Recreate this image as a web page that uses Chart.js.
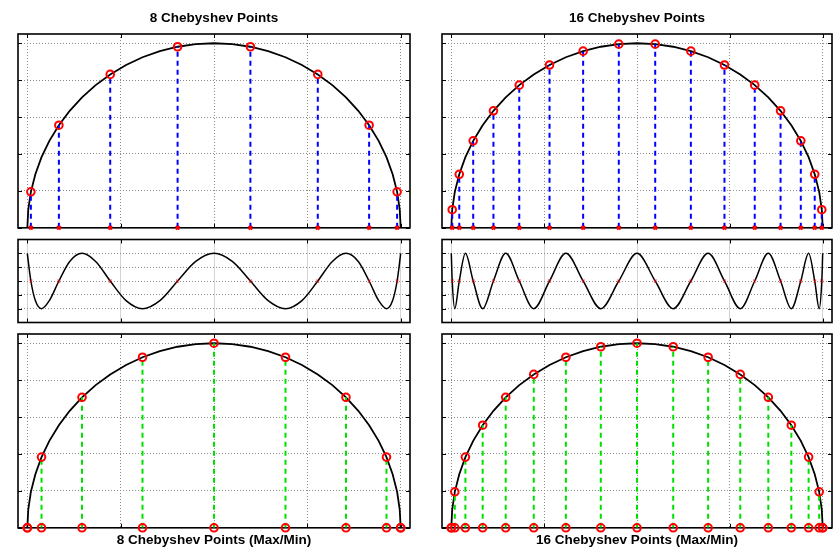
<!DOCTYPE html>
<html>
<head>
<meta charset="utf-8">
<script src="https://cdn.jsdelivr.net/npm/chart.js@4"></script>
<style>
html, body { margin: 0; padding: 0; background: #fff; }
#wrap { position: relative; width: 840px; height: 548px; }
canvas { position: absolute; }
</style>
</head>
<body>
<div id="wrap">
  <canvas id="top8" width="420" height="234" style="left:0;top:0"></canvas>
  <canvas id="top16" width="420" height="234" style="left:420px;top:0"></canvas>
  <canvas id="mid8" width="420" height="94" style="left:0;top:234px"></canvas>
  <canvas id="mid16" width="420" height="94" style="left:420px;top:234px"></canvas>
  <canvas id="bot8" width="420" height="220" style="left:0;top:328px"></canvas>
  <canvas id="bot16" width="420" height="220" style="left:420px;top:328px"></canvas>
</div>
<script>
// Chebyshev points (roots) and their heights on the half circle
const roots8 = [-0.981, -0.831, -0.556, -0.195, 0.195, 0.556, 0.831, 0.981];
const roots8Y = [0.195, 0.556, 0.831, 0.981, 0.981, 0.831, 0.556, 0.195];
const roots16 = [-0.995, -0.957, -0.882, -0.773, -0.634, -0.471, -0.290, -0.098,
                 0.098, 0.290, 0.471, 0.634, 0.773, 0.882, 0.957, 0.995];
const roots16Y = [0.098, 0.290, 0.471, 0.634, 0.773, 0.882, 0.957, 0.995,
                  0.995, 0.957, 0.882, 0.773, 0.634, 0.471, 0.290, 0.098];

// max/min points
const ext8 = [-1, -0.924, -0.707, -0.383, 0, 0.383, 0.707, 0.924, 1];
const ext8Y = [0, 0.383, 0.707, 0.924, 1, 0.924, 0.707, 0.383, 0];
const ext16 = [-1, -0.981, -0.924, -0.831, -0.707, -0.556, -0.383, -0.195, 0,
               0.195, 0.383, 0.556, 0.707, 0.831, 0.924, 0.981, 1];
const ext16Y = [0, 0.195, 0.383, 0.556, 0.707, 0.831, 0.924, 0.981, 1,
                0.981, 0.924, 0.831, 0.707, 0.556, 0.383, 0.195, 0];

// T8 and T16 read at the knots (ext16 and roots16 merged, left to right)
const t8Curve = [1, 0.707, 0, -0.707, -1, -0.707, 0, 0.707,
                 1, 0.707, 0, -0.707, -1, -0.707, 0, 0.707,
                 1, 0.707, 0, -0.707, -1, -0.707, 0, 0.707,
                 1, 0.707, 0, -0.707, -1, -0.707, 0, 0.707, 1];
const t16Curve = [1, 0, -1, 0, 1, 0, -1, 0, 1, 0, -1, 0, 1, 0, -1, 0,
                  1, 0, -1, 0, 1, 0, -1, 0, 1, 0, -1, 0, 1, 0, -1, 0, 1];

// tick positions (no labels shown)
const xTicks = [-1, -0.5, 0, 0.5, 1];
const circleTicks = [0, 0.2, 0.4, 0.6, 0.8, 1];
const chebTicks = [-1, -0.5, 0, 0.5, 1];

const pts = (xs, ys) => xs.map((x, i) => ({ x: x, y: ys[i] }));
const knotX = ext16.concat(roots16).sort((a, b) => a - b);
const circle = pts(ext16, ext16Y).concat(pts(roots16, roots16Y)).sort((a, b) => a.x - b.x);

// frame with inward ticks, matlab style
const frame = {
  id: 'frame',
  beforeDatasetsDraw(chart) {
    const { ctx, chartArea: a, scales: { x, y } } = chart;
    ctx.save();
    ctx.strokeStyle = '#000';
    ctx.lineWidth = 1;
    ctx.beginPath();
    x.ticks.forEach(t => {
      const px = Math.round(x.getPixelForValue(t.value)) + 0.5;
      ctx.moveTo(px, a.bottom); ctx.lineTo(px, a.bottom - 4);
      ctx.moveTo(px, a.top); ctx.lineTo(px, a.top + 4);
    });
    y.ticks.forEach(t => {
      const py = Math.round(y.getPixelForValue(t.value)) + 0.5;
      ctx.moveTo(a.left, py); ctx.lineTo(a.left + 4, py);
      ctx.moveTo(a.right, py); ctx.lineTo(a.right - 4, py);
    });
    ctx.stroke();
    ctx.lineWidth = 1.6;
    ctx.strokeRect(a.left, a.top, a.width, a.height);
    ctx.restore();
  }
};

function stems(xs, ys, color) {
  return xs.map((x, i) => ({
    data: [{ x: x, y: 0 }, { x: x, y: ys[i] }],
    showLine: true, borderColor: color, borderWidth: 2, borderDash: [5, 4],
    pointRadius: 0, order: 2
  }));
}

function markers(data, style, radius, color, width) {
  return {
    data: data, pointStyle: style, pointRadius: radius, pointBorderWidth: width,
    pointBorderColor: color, pointBackgroundColor: 'rgba(0,0,0,0)',
    borderColor: color, clip: false, order: 0
  };
}

function makeChart(id, o) {
  new Chart(document.getElementById(id), {
    type: 'scatter',
    data: { datasets: o.datasets },
    plugins: [frame],
    options: {
      responsive: false,
      animation: false,
      events: [],
      layout: { padding: o.pad },
      plugins: {
        legend: { display: false },
        tooltip: { enabled: false },
        title: {
          display: !!o.title, text: o.title, position: o.titlePos, color: '#000',
          font: { family: 'Liberation Sans, Arial, sans-serif', size: 13.5, weight: 'bold' },
          padding: o.titlePad
        }
      },
      scales: {
        x: {
          type: 'linear', min: -1.05, max: 1.05,
          afterBuildTicks: s => { s.ticks = xTicks.map(v => ({ value: v })); },
          ticks: { display: false },
          grid: { drawTicks: false, color: o.xGridColor || '#8a8a8a', lineWidth: 1 },
          border: { display: false, dash: o.xGridDash || [1, 2] }
        },
        y: {
          type: 'linear', min: o.yMin, max: o.yMax,
          afterBuildTicks: s => { s.ticks = o.yTicks.map(v => ({ value: v })); },
          ticks: { display: false },
          grid: { drawTicks: false, color: '#8a8a8a', lineWidth: 1 },
          border: { display: false, dash: [1, 2] }
        }
      }
    }
  });
}

const circleLine = {
  data: circle, showLine: true, borderColor: '#000', borderWidth: 1.8,
  pointRadius: 0, order: 3
};

function topPanel(id, title, xs, ys, padL, padR) {
  makeChart(id, {
    title: title, titlePos: 'top', titlePad: { top: 10, bottom: 7.8 },
    pad: { left: padL, right: padR, top: 0, bottom: 4 },
    yMin: 0, yMax: 1.05, yTicks: circleTicks,
    datasets: [
      markers(pts(xs, ys), 'circle', 3.8, '#ff0000', 2),
      markers(xs.map(x => ({ x: x, y: 0 })), 'crossRot', 2.5, '#ff0000', 2.2),
      ...stems(xs, ys, '#0000ff'),
      circleLine
    ]
  });
}

function midPanel(id, curve, zeros, padL, padR) {
  makeChart(id, {
    pad: { left: padL, right: padR, top: 5, bottom: 3 },
    yMin: -1.5, yMax: 1.5, yTicks: chebTicks,
    xGridColor: '#d4d4d4', xGridDash: [],
    datasets: [
      markers(zeros.map(x => ({ x: x, y: 0 })), 'crossRot', 2, 'rgba(255,0,0,0.55)', 1.5),
      {
        data: pts(knotX, curve), showLine: true, borderColor: '#000', borderWidth: 1.5,
        cubicInterpolationMode: 'monotone', pointRadius: 0, order: 3
      }
    ]
  });
}

function botPanel(id, title, xs, ys, padL, padR) {
  makeChart(id, {
    title: title, titlePos: 'bottom', titlePad: { top: 4, bottom: 0 },
    pad: { left: padL, right: padR, top: 4, bottom: 0 },
    yMin: 0, yMax: 1.05, yTicks: circleTicks,
    datasets: [
      markers(pts(xs, ys), 'circle', 3.8, '#ff0000', 2),
      markers(xs.map(x => ({ x: x, y: 0 })), 'circle', 3.8, '#ff0000', 2),
      ...stems(xs, ys, '#00e000'),
      circleLine
    ]
  });
}

topPanel('top8', '8 Chebyshev Points', roots8, roots8Y, 18, 10);
topPanel('top16', '16 Chebyshev Points', roots16, roots16Y, 22, 8);
midPanel('mid8', t8Curve, roots8, 18, 10);
midPanel('mid16', t16Curve, roots16, 22, 8);
botPanel('bot8', '8 Chebyshev Points (Max/Min)', ext8, ext8Y, 18, 10);
botPanel('bot16', '16 Chebyshev Points (Max/Min)', ext16, ext16Y, 22, 8);
</script>
</body>
</html>
